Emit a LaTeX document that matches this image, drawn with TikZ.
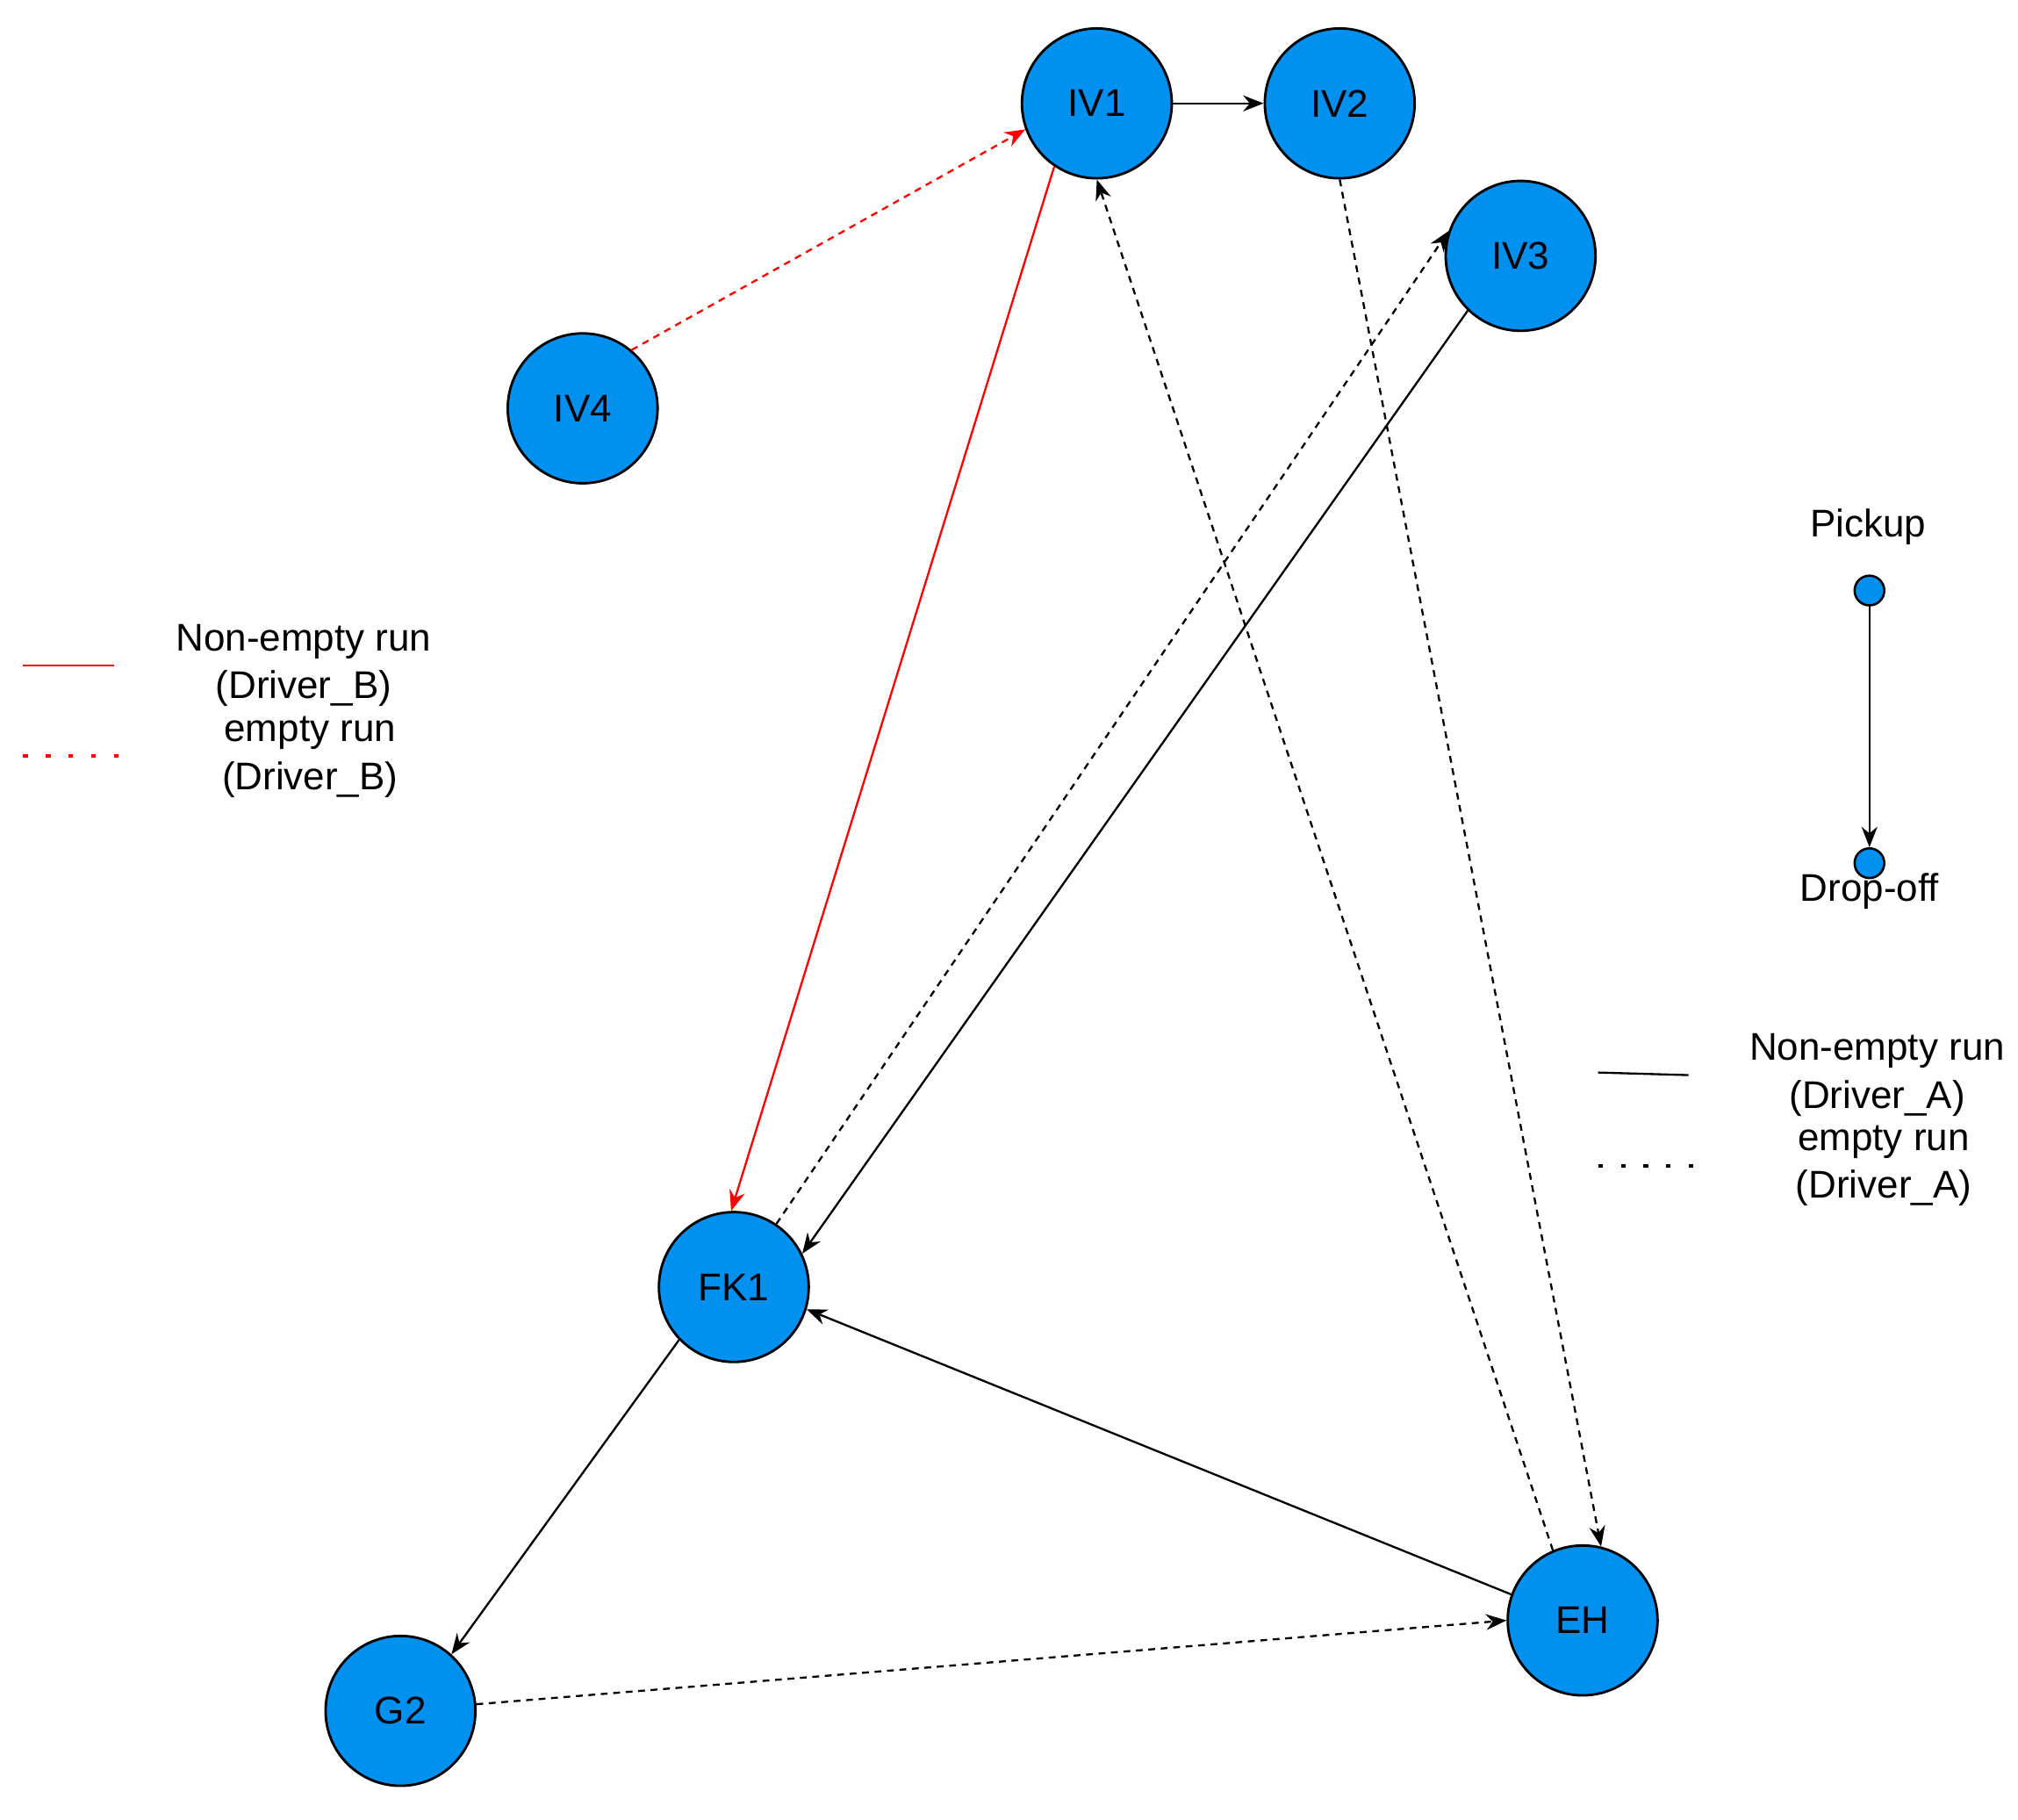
\documentclass[tikz,border=0pt]{standalone}
\usepackage{fontspec}
\setmainfont{Liberation Sans}
\usetikzlibrary{arrows.meta}
\definecolor{nb}{RGB}{0,145,240}
\begin{document}
\begin{tikzpicture}[x=0.02cm,y=-0.02cm,
  n/.style={circle,draw=black,line width=1.1pt,fill=nb,minimum size=2.32cm,inner sep=0pt,font=\fontsize{17}{20}\selectfont},
  sm/.style={circle,draw=black,line width=1pt,fill=nb,minimum size=0.46cm,inner sep=0pt},
  e/.style={line width=0.9pt,-{Stealth[length=9pt,width=7pt]}},
  d/.style={e,dash pattern=on 3pt off 2.5pt},
  lab/.style={align=center,font=\fontsize{17}{21}\selectfont}]
\useasboundingbox (0,0) rectangle (1562,1408);
\node[n] (IV1) at (849,80) {IV1};
\node[n] (IV2) at (1037,80) {IV2};
\node[n] (IV3) at (1177,198) {IV3};
\node[n] (IV4) at (451,316) {IV4};
\node[n] (FK1) at (568,996) {FK1};
\node[n] (G2) at (310,1324) {G2};
\node[n] (EH) at (1225,1254) {EH};
\draw[e] (IV1) -- (IV2);
\draw[d,red] (IV4.50) -- (IV1.200);
\draw[e,red] (IV1.236) -- (FK1.92);
\draw[d] (EH.113) -- (IV1.270);
\draw[d] (IV2.270) -- (EH.76);
\draw[d] (FK1.56) -- (IV3.161);
\draw[e] (IV3.226) -- (FK1.26);
\draw[e] (EH.160) -- (FK1.-17);
\draw[e] (FK1.224) -- (G2.48);
\draw[d] (G2.5) -- (EH.180);
% legend pickup
\node[sm] (P) at (1447,457) {};
\node[sm] (D) at (1447,668) {};
\node[lab] (PT) at (1446,408) {Pickup};
\node[lab] (DT) at (1447,690) {Drop-off};
\draw[e] (P) -- (D);
% left legend
\coordinate (a1) at (18,515); \coordinate (a2) at (88,515);
\coordinate (b1) at (18,585); \coordinate (b2) at (100,585);
\draw[red,line width=0.9pt] (a1) -- (a2);
\draw[red,line width=1.5pt,dash pattern=on 2pt off 8pt] (b1) -- (b2);
\node[lab] (L1) at (235,515) {Non-empty run\\(Driver\_B)};
\node[lab] (L2) at (240,586) {empty run\\(Driver\_B)};
% right legend
\coordinate (c1) at (1237,830); \coordinate (c2) at (1307,832);
\coordinate (f1) at (1237,902); \coordinate (f2) at (1317,902);
\draw[line width=0.9pt] (c1) -- (c2);
\draw[line width=1.5pt,dash pattern=on 2pt off 8pt] (f1) -- (f2);
\node[lab] (R1) at (1453,832) {Non-empty run\\(Driver\_A)};
\node[lab] (R2) at (1458,902) {empty run\\(Driver\_A)};
\end{tikzpicture}
\end{document}
